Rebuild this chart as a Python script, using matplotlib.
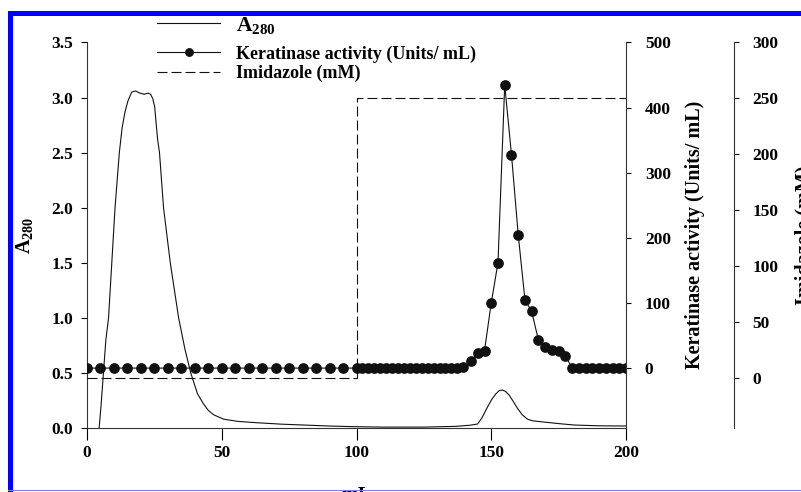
import matplotlib
matplotlib.use("Agg")
import matplotlib.pyplot as plt
from matplotlib.patches import Rectangle
from matplotlib.ticker import FormatStrFormatter

plt.rcParams['font.family'] = ['Liberation Serif', 'DejaVu Serif']
plt.rcParams['font.weight'] = 'bold'
plt.rcParams['axes.labelweight'] = 'bold'
plt.rcParams['mathtext.fontset'] = 'custom'
plt.rcParams['mathtext.rm'] = 'Liberation Serif'
plt.rcParams['mathtext.bf'] = 'Liberation Serif:bold'
plt.rcParams['mathtext.it'] = 'Liberation Serif:italic'

# A280 trace (mL, absorbance)
a280_ml = [4.5, 5.2, 6.1, 7.0, 8.0, 9.2, 10.4, 12.0, 13.0, 14.1,
           15.2, 16.6, 18.0, 19.7, 21.2, 22.6, 23.6, 24.4, 25.1, 25.6,
           26.2, 26.9, 28.4, 30.9, 34.0, 36.3, 38.5, 41.0, 43.2, 45.0,
           47.0, 50.7, 56.0, 63.0, 72.0, 80.4, 90.0, 99.0, 110.0, 125.0,
           137.0, 142.0, 144.9, 146.5, 148.6, 150.2, 151.7, 153.0, 154.2, 155.4,
           156.6, 158.2, 159.7, 161.5, 163.5, 165.5, 168.4, 175.0, 180.8, 190.0,
           200.0]
a280_abs = [0.0, 0.2, 0.5, 0.8, 1.0, 1.5, 2.0, 2.5, 2.72, 2.87,
            2.97, 3.05, 3.06, 3.04, 3.03, 3.04, 3.03, 2.99, 2.92, 2.78,
            2.62, 2.5, 2.0, 1.5, 1.0, 0.72, 0.5, 0.31, 0.22, 0.16,
            0.12, 0.08, 0.06, 0.048, 0.035, 0.027, 0.018, 0.012, 0.008, 0.008,
            0.015, 0.025, 0.036, 0.09, 0.19, 0.26, 0.31, 0.34, 0.345, 0.33,
            0.30, 0.24, 0.18, 0.12, 0.079, 0.065, 0.057, 0.04, 0.027, 0.02,
            0.018]

# keratinase activity per fraction
ker_ml = [0, 5, 10, 15, 20, 25, 30, 35, 40, 45, 50, 55, 60, 65, 70, 75, 80, 85, 90, 95, 100,
          102.2, 104.4, 106.6, 108.8, 111.0, 113.2, 115.4, 117.6, 119.8, 122.0,
          124.2, 126.4, 128.6, 130.8, 133.0, 135.2, 137.4, 139.6,
          142.5, 145, 147.5, 150, 152.5, 155, 157.5, 160, 162.5, 165, 167.5, 170,
          172.5, 175, 177.5, 180, 182.5, 185, 187.5, 190, 192.5, 195, 197.5, 200]
ker_units = [0, 0, 0, 0, 0, 0, 0, 0, 0, 0, 0, 0, 0, 0, 0, 0, 0, 0, 0, 0, 0,
             0, 0, 0, 0, 0, 0, 0, 0, 0, 0,
             0, 0, 0, 0, 0, 0, 0, 1,
             11, 23, 27, 100, 162, 435, 328, 205, 105, 87, 43, 32,
             28, 26, 19, 0, 0, 0, 0, 0, 0, 0, 0, 0]

# imidazole step gradient
imid_ml = [0, 100, 100, 200]
imid_mm = [0, 0, 250, 250]

W, H = 801, 492
fig = plt.figure(figsize=(W / 100, H / 100), dpi=100)
ax = fig.add_axes([87 / W, (H - 428) / H, 539 / W, 385.5 / H])
ax2 = ax.twinx()
ax3 = ax.twinx()

ink = '#111111'
l1, = ax.plot(a280_ml, a280_abs, color=ink, lw=0.8)
l2, = ax2.plot(ker_ml, ker_units, color=ink, lw=0.8, marker='o', ms=6.7,
               markerfacecolor=ink, markeredgecolor=ink)
l3, = ax3.plot(imid_ml, imid_mm, color=ink, lw=0.8, dashes=(9, 3.6))

ax.set_xlim(0, 200)
ax.set_ylim(0, 3.5)
ax2.set_ylim(-92, 500)
ax3.set_ylim(-45, 300)

ax.set_xticks([0, 50, 100, 150, 200])
ax.set_yticks([0, 0.5, 1.0, 1.5, 2.0, 2.5, 3.0, 3.5])
ax.yaxis.set_major_formatter(FormatStrFormatter('%.1f'))
ax2.set_yticks([0, 100, 200, 300, 400, 500])
ax3.set_yticks([0, 50, 100, 150, 200, 250, 300])

for a in (ax, ax2, ax3):
    for s in a.spines.values():
        s.set_color('#333333')
        s.set_linewidth(0.8)
ax.spines['top'].set_visible(False)
ax.spines['right'].set_visible(False)
for a in (ax2, ax3):
    a.spines['top'].set_visible(False)
    a.spines['left'].set_visible(False)
    a.spines['bottom'].set_visible(False)
ax3.spines['right'].set_position(('axes', 1.2))

ax.tick_params(axis='x', direction='out', length=8.5, width=0.8, pad=4, labelsize=12.5)
ax.tick_params(axis='y', direction='out', length=4, width=0.8, pad=6, labelsize=12.5)
ax2.tick_params(axis='y', direction='out', length=3.5, width=0.8, pad=10, labelsize=12.5)
ax3.tick_params(axis='y', direction='out', length=3.5, width=0.8, pad=10, labelsize=12.5)

ax.set_xlabel('mL', fontsize=14.5)
ax.xaxis.set_label_coords(0.5, -0.150)
ax.set_ylabel(r'$\mathrm{A}_{280}$', fontsize=14.5)
ax.yaxis.set_label_coords(-0.0965, 0.5)
ax2.set_ylabel('Keratinase activity (Units/ mL)', fontsize=14.5)
ax2.yaxis.set_label_coords(1.109, 0.5)
ax3.set_ylabel('Imidazole (mM)', fontsize=14.5)
ax3.yaxis.set_label_coords(1.312, 0.5)

# legend split in two so the taller A280 row gets its own spacing
leg_kw = dict(frameon=False, borderpad=0, borderaxespad=0, numpoints=1,
              markerscale=0.8, bbox_transform=fig.transFigure)
leg1 = ax3.legend([l1], [r'$\mathbf{A}_{\mathbf{280}}$'], loc='center left',
                  bbox_to_anchor=(157 / W, (H - 25.5) / H), fontsize=15.5,
                  handlelength=2.93, handletextpad=0.75, **leg_kw)
ax3.add_artist(leg1)
ax3.legend([l2, l3], ['Keratinase activity (Units/ mL)', 'Imidazole (mM)'],
           loc='center left', bbox_to_anchor=(157 / W, (H - 63.7) / H),
           fontsize=13, labelspacing=0.1, handlelength=3.5, handletextpad=0.9,
           **leg_kw)

# blue frame around the cropped figure
fig.add_artist(Rectangle((8 / W, (H - 16) / H), (W - 8) / W, 5 / H,
                         transform=fig.transFigure, color='#0000ff', lw=0, zorder=10))
fig.add_artist(Rectangle((8 / W, 0), 5 / W, (H - 11) / H,
                         transform=fig.transFigure, color='#0000ff', lw=0, zorder=10))
fig.add_artist(Rectangle((8 / W, 1 / H), (W - 8) / W, 1.2 / H,
                         transform=fig.transFigure, color='#7b7bf2', lw=0, zorder=10))

fig.savefig('out.png', dpi=100)
